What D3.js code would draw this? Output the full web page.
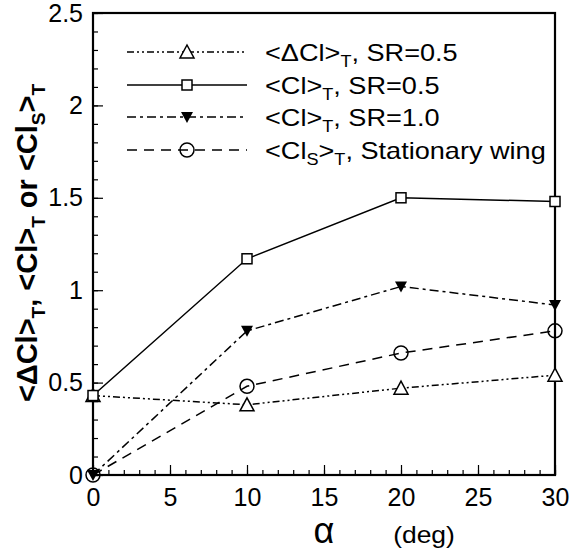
<!DOCTYPE html>
<html>
<head>
<meta charset="utf-8">
<script src="https://cdn.jsdelivr.net/npm/d3@7"></script>
<style>
  body { margin: 0; background: #fff; }
  text { font-family: Arial, "Liberation Sans", sans-serif; }
</style>
</head>
<body>
<div id="chart"></div>
<script>
// angle of attack, deg
var alpha = [0, 10, 20, 30];
var dClSR05 = [0.43, 0.38, 0.47, 0.54];
var clSR05 = [0.43, 1.17, 1.50, 1.48];
var clSR10 = [0.00, 0.78, 1.02, 0.92];
var clStat = [0.00, 0.48, 0.66, 0.78];
var xTicks = [0, 5, 10, 15, 20, 25, 30];
var yTicks = [0, 0.5, 1, 1.5, 2, 2.5];

var W = 571, H = 556;
var m = {left: 93, right: 16, top: 13, bottom: 81};

var svg = d3.select('#chart').append('svg')
    .attr('width', W).attr('height', H);

var x = d3.scaleLinear().domain([0, 30]).range([m.left, W - m.right]);
var y = d3.scaleLinear().domain([0, 2.5]).range([H - m.bottom, m.top]);

// minor ticks
svg.append('g')
    .attr('transform', 'translate(0,' + y(0) + ')')
    .call(d3.axisBottom(x).tickValues(d3.range(0, 31, 1)).tickSize(-5).tickFormat(''))
    .call(function(g){ g.select('.domain').remove(); });
svg.append('g')
    .attr('transform', 'translate(' + x(0) + ',0)')
    .call(d3.axisLeft(y).tickValues(d3.range(0, 2.51, 0.1)).tickSize(-5).tickFormat(''))
    .call(function(g){ g.select('.domain').remove(); });

// major ticks
var xa = svg.append('g')
    .attr('transform', 'translate(0,' + y(0) + ')')
    .call(d3.axisBottom(x).tickValues(xTicks).tickSize(-10).tickPadding(16).tickFormat(d3.format('d')));
xa.select('.domain').remove();
xa.selectAll('text').attr('font-size', 25).attr('fill', '#000').attr('dy', '0.6em')
  .attr('font-family', 'Arial, "Liberation Sans", sans-serif');

var ya = svg.append('g')
    .attr('transform', 'translate(' + x(0) + ',0)')
    .call(d3.axisLeft(y).tickValues(yTicks).tickSize(-10).tickPadding(10).tickFormat(function(d){ return d; }));
ya.select('.domain').remove();
ya.selectAll('text').attr('font-size', 25).attr('fill', '#000')
  .attr('font-family', 'Arial, "Liberation Sans", sans-serif');
svg.selectAll('.tick line').attr('stroke', '#000').attr('stroke-width', 1.2);

// frame
svg.append('rect')
    .attr('x', x(0)).attr('y', y(2.5))
    .attr('width', x(30) - x(0)).attr('height', y(0) - y(2.5))
    .attr('fill', 'none').attr('stroke', '#000').attr('stroke-width', 2.2);

var series = [
  {vals: dClSR05, dash: '7,3,2,3,2,3', sym: 'tri'},
  {vals: clSR05, dash: null, sym: 'sq'},
  {vals: clSR10, dash: '9,4,3,4', sym: 'tridown'},
  {vals: clStat, dash: '10,7', sym: 'circ'}
];

var line = d3.line().x(function(d, i){ return x(alpha[i]); }).y(function(d){ return y(d); });

function drawSym(g, s, cx, cy) {
  if (s === 'tri') {
    g.append('path').attr('d', 'M' + cx + ',' + (cy - 7) + 'L' + (cx + 7) + ',' + (cy + 6) + 'L' + (cx - 7) + ',' + (cy + 6) + 'Z')
      .attr('fill', '#fff').attr('stroke', '#000').attr('stroke-width', 1.5);
  } else if (s === 'sq') {
    g.append('rect').attr('x', cx - 5).attr('y', cy - 5).attr('width', 10).attr('height', 10)
      .attr('fill', '#fff').attr('stroke', '#000').attr('stroke-width', 1.5);
  } else if (s === 'tridown') {
    g.append('path').attr('d', 'M' + (cx - 6) + ',' + (cy - 5) + 'L' + (cx + 6) + ',' + (cy - 5) + 'L' + cx + ',' + (cy + 6) + 'Z')
      .attr('fill', '#000');
  } else {
    g.append('circle').attr('cx', cx).attr('cy', cy).attr('r', 7)
      .attr('fill', 'none').attr('stroke', '#000').attr('stroke-width', 1.5);
  }
}

series.forEach(function(s) {
  svg.append('path').datum(s.vals).attr('d', line)
    .attr('fill', 'none').attr('stroke', '#000').attr('stroke-width', 1.5)
    .attr('stroke-dasharray', s.dash);
});
series.forEach(function(s) {
  var g = svg.append('g');
  s.vals.forEach(function(v, i){ drawSym(g, s.sym, x(alpha[i]), y(v)); });
});

// legend
var legRows = [52, 85, 117, 150];
var lg = svg.append('g');
series.forEach(function(s, i) {
  var ly = legRows[i];
  lg.append('line').attr('x1', 127).attr('x2', 247).attr('y1', ly).attr('y2', ly)
    .attr('stroke', '#000').attr('stroke-width', 1.5).attr('stroke-dasharray', s.dash);
  drawSym(lg, s.sym, 187, ly);
});
function legText(ly, parts) {
  // reference lettering is a bit wider than Arial
  var t = lg.append('text').attr('transform', 'translate(265,' + (ly + 9) + ') scale(1.13,1)').attr('font-size', 24);
  parts.forEach(function(p) {
    var ts = t.append('tspan').text(p[0]);
    if (p[1] === 'sub') ts.attr('font-size', 16).attr('dy', 6);
    if (p[1] === 'up') ts.attr('dy', -6);
  });
}
legText(legRows[0], [['<ΔCl>'], ['T', 'sub'], [', SR=0.5', 'up']]);
legText(legRows[1], [['<Cl>'], ['T', 'sub'], [', SR=0.5', 'up']]);
legText(legRows[2], [['<Cl>'], ['T', 'sub'], [', SR=1.0', 'up']]);
legText(legRows[3], [['<Cl'], ['S', 'sub'], ['>', 'up'], ['T', 'sub'], [', Stationary wing', 'up']]);

// axis titles
var yt = svg.append('text')
  .attr('transform', 'translate(37,' + ((y(0) + y(2.5)) / 2 - 1) + ') rotate(-90)')
  .attr('text-anchor', 'middle').attr('font-size', 29).attr('font-weight', 'bold');
[['<ΔCl>'], ['T', 'sub'], [', <Cl>', 'up'], ['T', 'sub'], [' or <Cl', 'up'], ['S', 'sub'], ['>', 'up'], ['T', 'sub']].forEach(function(p) {
  var ts = yt.append('tspan').text(p[0]);
  if (p[1] === 'sub') ts.attr('font-size', 19).attr('dy', 8);
  if (p[1] === 'up') ts.attr('dy', -8);
});

svg.append('text').attr('x', 324).attr('y', 543).attr('text-anchor', 'middle')
  .attr('font-size', 36).attr('font-family', '"DejaVu Serif", "Liberation Serif", serif').text('α');
svg.append('text').attr('transform', 'translate(424,543) scale(1.15,1)').attr('text-anchor', 'middle')
  .attr('font-size', 23).text('(deg)');
</script>
</body>
</html>
